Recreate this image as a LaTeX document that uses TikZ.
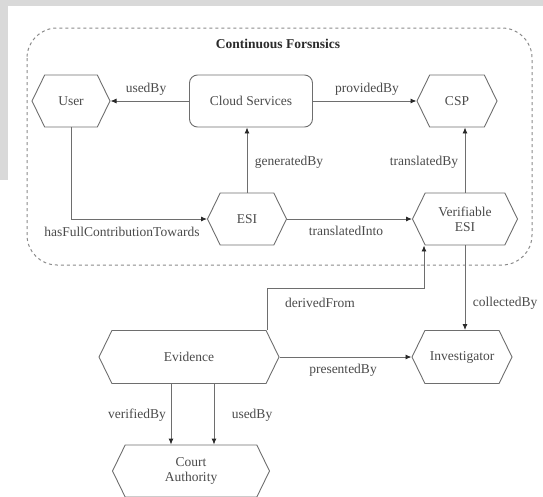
\documentclass[tikz,border=0pt]{standalone}
\usepackage{fontspec}
\setmainfont{Liberation Serif}
\usetikzlibrary{shapes.symbols,arrows.meta}
\definecolor{linegray}{HTML}{6E6E6E}
\definecolor{textgray}{HTML}{4A4A4A}
\definecolor{tipgray}{HTML}{2A2A2A}
\definecolor{framegray}{HTML}{8A8A8A}
\definecolor{bandgray}{HTML}{D9D9D9}
\tikzset{
  hexbox/.style={signal, signal to=west and east, signal pointer angle=128,
    draw=linegray, line width=0.9pt, inner sep=0pt, align=center,
    text=textgray, font=\fontsize{13.5}{15}\selectfont},
  roundbox/.style={rectangle, rounded corners=8pt, draw=linegray, line width=0.9pt,
    inner sep=0pt, align=center, text=textgray, font=\fontsize{13.5}{15}\selectfont},
  arr/.style={draw=linegray, line width=0.9pt,
    -{Latex[length=6pt,width=5pt,fill=tipgray,color=tipgray]}},
  lbl/.style={text=textgray, font=\fontsize{13.5}{15}\selectfont, inner sep=0pt}
}
\begin{document}
\begin{tikzpicture}[x=1pt,y=-1pt]
  \useasboundingbox (0,0) rectangle (543,496);
  % grey band along the top and left edges
  \fill[bandgray] (0,0) rectangle (543,6);
  \fill[bandgray] (0,0) rectangle (8,180);

  % dashed frame of the continuous forensics group
  \draw[framegray, line width=1pt, dash pattern=on 3pt off 3pt, rounded corners=30pt]
    (27,28) rectangle (532,265);
  \node[font=\fontsize{13.5}{15}\selectfont\bfseries, text=tipgray] (title) at (278,44) {Continuous Forsnsics};

  % nodes
  \node[hexbox, minimum width=78pt, minimum height=52pt] (user) at (71,101) {User};
  \node[roundbox, minimum width=123pt, minimum height=52pt] (cloud) at (251,101) {Cloud Services};
  \node[hexbox, minimum width=80pt, minimum height=52pt] (csp) at (457,101) {CSP};
  \node[hexbox, minimum width=79pt, minimum height=52pt] (esi) at (247,219) {ESI};
  \node[hexbox, minimum width=105pt, minimum height=52pt] (vesi) at (465,219) {Verifiable\\ESI};
  \node[hexbox, minimum width=180pt, minimum height=53pt] (evid) at (189,357) {Evidence};
  \node[hexbox, minimum width=100pt, minimum height=53pt] (inv) at (462,357) {Investigator};
  \node[hexbox, minimum width=157pt, minimum height=52pt] (court) at (191,471) {Court\\Authority};

  % helper coordinates for routed connectors
  \coordinate (dfs) at (267,0);
  \coordinate (dfc) at (424,288);
  \coordinate (vb) at (171,0);
  \coordinate (ub) at (214,0);

  % connectors
  \draw[arr] (cloud.west) -- (user.east);
  \draw[arr] (cloud.east) -- (csp.west);
  \draw[arr] (esi.north) -- (esi.north |- cloud.south);
  \draw[arr] (user.south) |- (esi.west);
  \draw[arr] (esi.east) -- (vesi.west);
  \draw[arr] (vesi.north) -- (vesi.north |- csp.south);
  \draw[arr] (vesi.south) -- (vesi.south |- inv.north);
  \draw[arr] (evid.north -| dfs) |- (dfc) -- (dfc |- vesi.south);
  \draw[arr] (evid.east) -- (inv.west);
  \draw[arr] (evid.south -| vb) -- (court.north -| vb);
  \draw[arr] (evid.south -| ub) -- (court.north -| ub);

  % connector labels
  \node[lbl] (l1) at (146,89) {usedBy};
  \node[lbl] (l2) at (367,89) {providedBy};
  \node[lbl] (l3) at (289,162) {generatedBy};
  \node[lbl] (l4) at (424,162) {translatedBy};
  \node[lbl] (l5) at (122,232) {hasFullContributionTowards};
  \node[lbl] (l6) at (346,231) {translatedInto};
  \node[lbl] (l7) at (320,303) {derivedFrom};
  \node[lbl] (l8) at (505,303) {collectedBy};
  \node[lbl] (l9) at (343,370) {presentedBy};
  \node[lbl] (l10) at (137,415) {verifiedBy};
  \node[lbl] (l11) at (252,415) {usedBy};
\end{tikzpicture}
\end{document}
